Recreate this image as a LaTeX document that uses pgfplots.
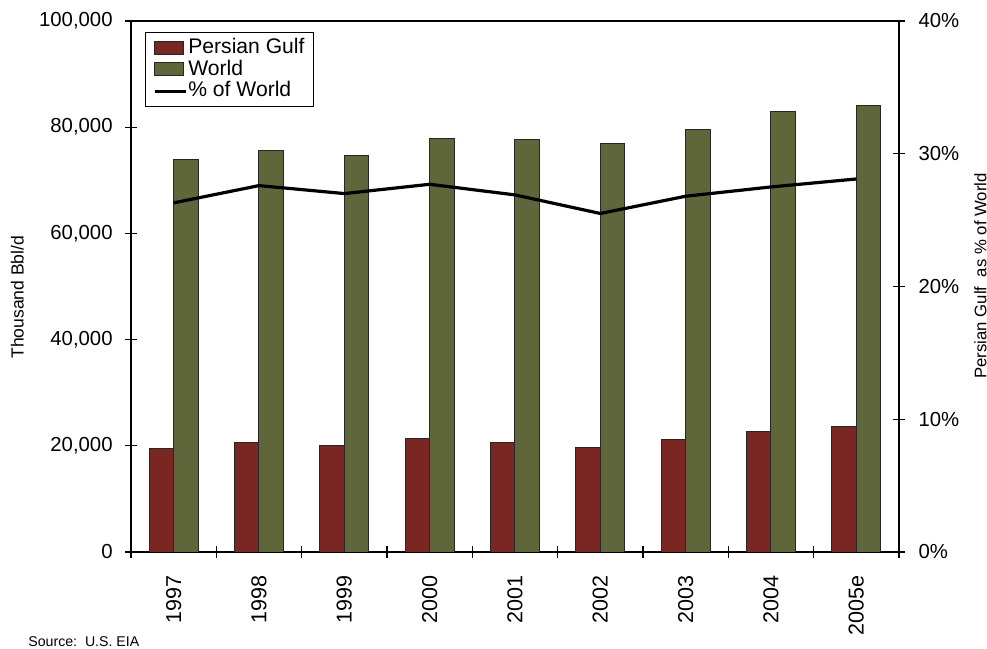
\documentclass[border=0pt]{standalone}
\usepackage{pgfplots}
\pgfplotsset{compat=1.18}
\usepackage{fontspec}
\setmainfont{Liberation Sans}
\definecolor{gulfred}{RGB}{122,38,34}
\definecolor{worldgreen}{RGB}{95,103,58}

\pgfplotsset{
    boxlegend/.style={legend image code/.code={\draw[##1] (0bp,-3.25bp) rectangle (14.5bp,3.25bp);}},
    linelegend/.style={legend image code/.code={\draw[##1] (0bp,0bp) -- (15.5bp,0bp);}},
}

\pgfplotstableread{
x  gulf   world  pct
0  19400  74000  26.3
1  20700  75600  27.6
2  20100  74700  27.0
3  21300  77800  27.7
4  20700  77600  26.9
5  19600  77000  25.5
6  21100  79500  26.8
7  22700  82900  27.5
8  23700  84000  28.1
}\oil

\begin{document}
\begin{tikzpicture}
\useasboundingbox (-65.5bp,-48.5bp) rectangle (428bp,276bp);
\begin{axis}[
    scale only axis,
    width=384bp, height=265.5bp,
    xmin=-0.5, xmax=8.5,
    ymin=0, ymax=100000,
    ytick={0,20000,...,100000},
    scaled y ticks=false,
    /pgf/number format/fixed,
    /pgf/number format/1000 sep={,},
    /pgf/number format/assume math mode=true,
    xtick={0,...,8},
    xticklabels={1997,1998,1999,2000,2001,2002,2003,2004,2005e},
    minor xtick={-0.5,0.5,...,8.5},
    major x tick style={draw=none},
    minor tick length=6bp,
    major tick length=6bp,
    tick align=center,
    ytick pos=left, xtick pos=bottom,
    axis line style={line width=0.6bp},
    tick style={black, line width=0.6bp},
    yticklabel style={inner sep=0pt, xshift=-6bp, font=\fontsize{10.2}{12}\selectfont},
    xticklabel style={rotate=90, anchor=east, inner sep=0pt, /tikz/shift={(-8.5bp,0)}, font=\fontsize{10.8}{12}\selectfont},
    ylabel={Thousand Bbl/d},
    ylabel style={at={(axis description cs:-0.148,0.48)}, anchor=center, font=\fontsize{8.8}{10}\selectfont},
    legend cell align=left,
    legend style={at={(rel axis cs:0.018,0.979)}, anchor=north west,
        draw=black, line width=0.5bp, inner xsep=4bp, inner ysep=2bp,
        font=\fontsize{10.6}{11}\selectfont, row sep=0pt,
        nodes={inner sep=0.4bp, text height=7.9bp, text depth=2.2bp},
        /tikz/every even column/.append style={column sep=2bp}},
]
\addplot[ybar, bar width=12.25bp, bar shift=-6.125bp, fill=gulfred, draw=black!85, line width=0.5bp, boxlegend]
    table[x=x, y=gulf] {\oil};
\addlegendentry{Persian Gulf}
\addplot[ybar, bar width=12.25bp, bar shift=6.125bp, fill=worldgreen, draw=black!85, line width=0.5bp, boxlegend]
    table[x=x, y=world] {\oil};
\addlegendentry{World}
\addlegendimage{black, line width=1.6bp, linelegend}
\addlegendentry{\% of World}
\end{axis}
\begin{axis}[
    scale only axis,
    width=384bp, height=265.5bp,
    xmin=-0.5, xmax=8.5,
    ymin=0, ymax=40,
    ytick={0,10,...,40},
    axis x line=none,
    axis y line*=right,
    axis line style={line width=0.6bp},
    tick style={black, line width=0.6bp},
    major tick length=6bp,
    tick align=center,
    /pgf/number format/assume math mode=true,
    yticklabel={\pgfmathprintnumber{\tick}\%},
    yticklabel style={inner sep=0pt, xshift=6.6bp, anchor=west, font=\fontsize{10.2}{12}\selectfont},
    ylabel={Persian Gulf\ \ as \% of World},
    ylabel style={at={(axis description cs:1.106,0.52)}, anchor=center, font=\fontsize{8.4}{9}\selectfont},
]
\addplot[black, line width=1.6bp, mark=none] table[x=x, y=pct] {\oil};
\end{axis}
\node[anchor=base west, font=\fontsize{7.1}{8}\selectfont, inner sep=0pt] at (-51.5bp,-47bp) {Source:\ \ U.S. EIA};
\end{tikzpicture}
\end{document}
